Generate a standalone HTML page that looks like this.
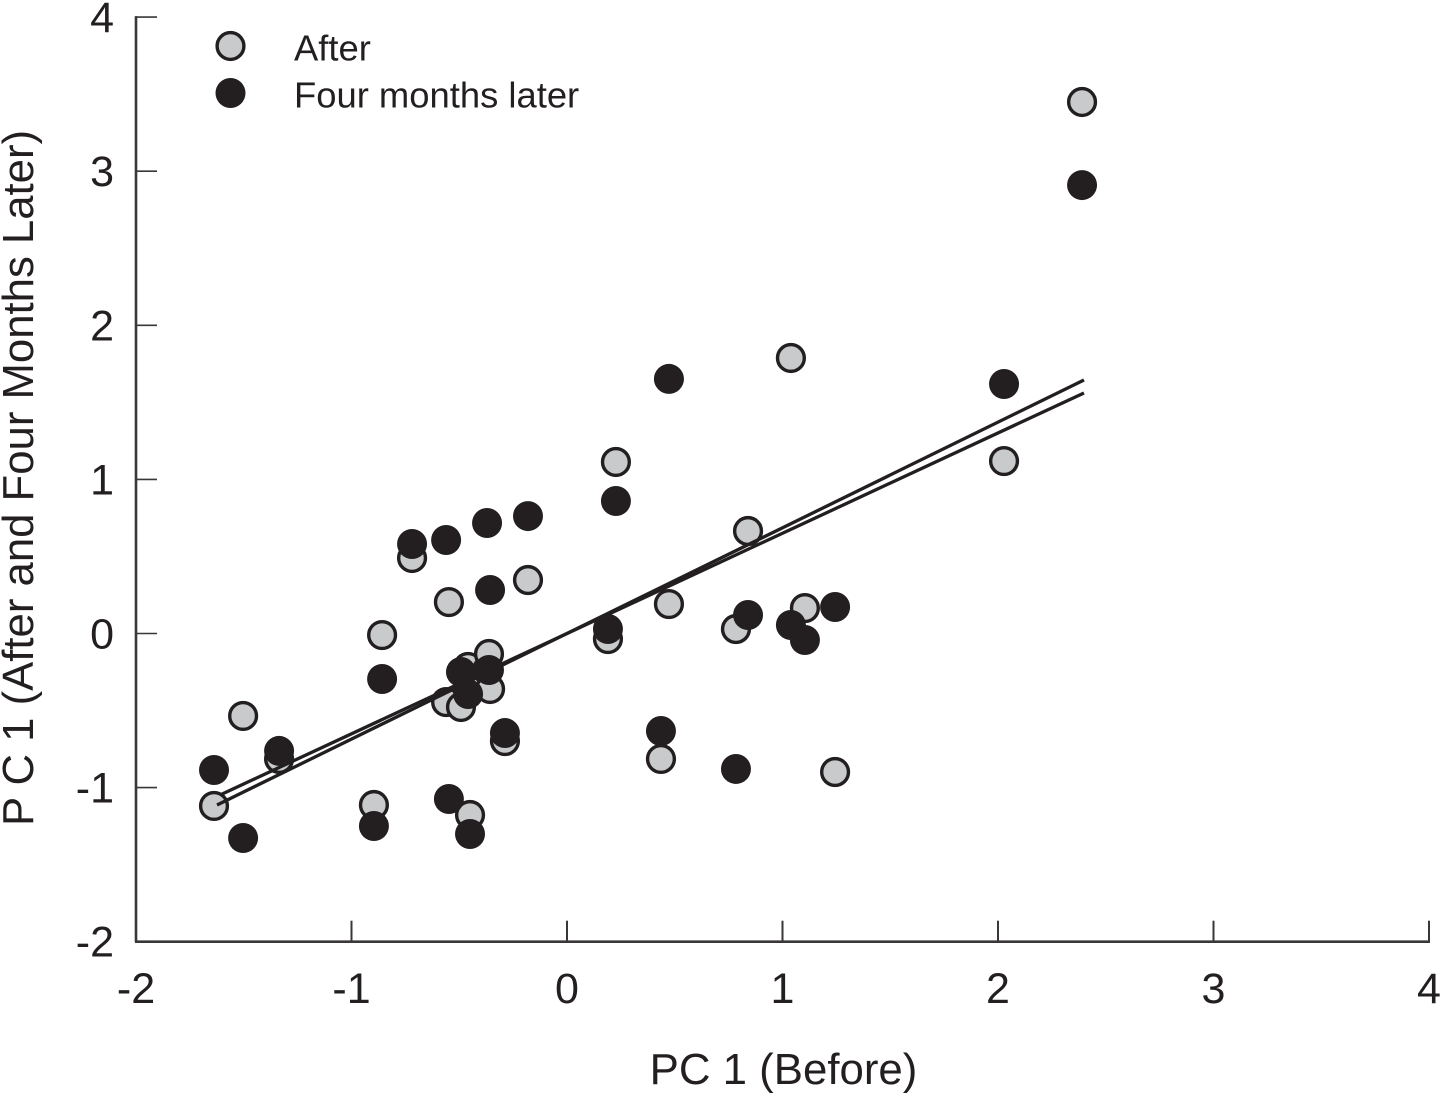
<!DOCTYPE html>
<html lang="en">
<head>
<meta charset="utf-8">
<title>PC 1 scatter chart</title>
<style>
html,body{margin:0;padding:0;background:#fff;}
svg{display:block;}
text{font-family:"Liberation Sans",sans-serif;fill:#231f20;}
</style>
</head>
<body>
<svg id="chart" xmlns="http://www.w3.org/2000/svg" width="1440" height="1093" viewBox="0 0 1440 1093">
  <g id="gray-layer"></g>
  <g id="line-layer"></g>
  <g id="black-layer"></g>
  <g id="axis-layer"></g>
  <g>
    <circle cx="230.500" cy="46" r="13.400" fill="#c8cacc" stroke="#231f20" stroke-width="3.400"></circle>
    <text x="294" y="60.500" font-size="36.400">After</text>
    <circle cx="230.500" cy="93" r="15" fill="#231f20"></circle>
    <text x="294" y="107.500" font-size="36.400">Four months later</text>
  </g>
  <text x="783.500" y="1084" font-size="43.800" text-anchor="middle">PC 1 (Before)</text>
  <text transform="translate(33 478) rotate(-90)" font-size="43.700" text-anchor="middle">P C 1 (After and Four Months Later)</text>
</svg>
<script>
const xValues = [-1.638,-1.503,-1.336,-0.896,-0.858,-0.719,-0.561,-0.548,-0.492,-0.459,-0.450,-0.371,-0.362,-0.357,-0.288,-0.181,0.190,0.227,0.436,0.473,0.784,0.840,1.039,1.104,1.244,2.028,2.390];
const afterValues = [-1.119,-0.535,-0.814,-1.113,-0.010,0.490,-0.445,0.204,-0.477,-0.217,-1.178,-0.237,-0.133,-0.360,-0.698,0.347,-0.036,1.113,-0.814,0.191,0.029,0.665,1.788,0.165,-0.899,1.119,3.449];
const fourMonthsValues = [-0.886,-1.327,-0.762,-1.249,-0.295,0.581,0.607,-1.074,-0.250,-0.393,-1.301,0.717,-0.237,0.282,-0.646,0.762,0.029,0.860,-0.633,1.652,-0.879,0.120,0.055,-0.042,0.172,1.619,2.910];
const afterFitX = [-1.624,2.399];
const afterFitY = [-1.113,1.645];
const fourMonthsFitX = [-1.610,2.399];
const fourMonthsFitY = [-1.048,1.561];
const xTicks = [-2,-1,0,1,2,3,4];
const yTicks = [-2,-1,0,1,2,3,4];

const NS = 'http://www.w3.org/2000/svg';
function sx(v){ return 567 + v * 215.5; }
function sy(v){ return 633.5 - v * 154.1; }
function make(tag, parent, attrs){
  const el = document.createElementNS(NS, tag);
  for (const k in attrs) el.setAttribute(k, attrs[k]);
  parent.appendChild(el);
  return el;
}
const grayLayer = document.getElementById('gray-layer');
const blackLayer = document.getElementById('black-layer');
const lineLayer = document.getElementById('line-layer');
const axisLayer = document.getElementById('axis-layer');

xValues.forEach(function(x, i){
  const c = make('circle', grayLayer, {cx: sx(x), cy: sy(afterValues[i]), r: 13.4, fill: '#c8cacc', stroke: '#231f20', 'stroke-width': 3.4});
  
  
});
xValues.forEach(function(x, i){
  const c = make('circle', blackLayer, {cx: sx(x), cy: sy(fourMonthsValues[i]), r: 15, fill: '#231f20'});
  
  
});

const fitA = make('line', lineLayer, {x1: sx(afterFitX[0]), y1: sy(afterFitY[0]), x2: sx(afterFitX[1]), y2: sy(afterFitY[1]), stroke: '#231f20', 'stroke-width': 3.3});


const fitB = make('line', lineLayer, {x1: sx(fourMonthsFitX[0]), y1: sy(fourMonthsFitY[0]), x2: sx(fourMonthsFitX[1]), y2: sy(fourMonthsFitY[1]), stroke: '#231f20', 'stroke-width': 3.3});



const xAxis = make('line', axisLayer, {x1: sx(-2) - 1, y1: sy(-2), x2: sx(4) + 1, y2: sy(-2), stroke: '#3a3738', 'stroke-width': 2.6});


const yAxis = make('line', axisLayer, {x1: sx(-2), y1: sy(4) - 1, x2: sx(-2), y2: sy(-2), stroke: '#3a3738', 'stroke-width': 2.6});



xTicks.forEach(function(t){
  const tick = make('line', axisLayer, {x1: sx(t), y1: sy(-2), x2: sx(t), y2: sy(-2) - 21, stroke: '#3a3738', 'stroke-width': 2});
  
  
  const label = make('text', axisLayer, {x: sx(t), y: 1003, 'font-size': 43, 'text-anchor': 'middle'});
  label.textContent = String(t);
  
  
});
yTicks.forEach(function(t){
  const tick = make('line', axisLayer, {x1: sx(-2), y1: sy(t), x2: sx(-2) + 21, y2: sy(t), stroke: '#3a3738', 'stroke-width': 1.6});
  
  
  const label = make('text', axisLayer, {x: 114, y: sy(t) + 15, 'font-size': 43, 'text-anchor': 'end'});
  label.textContent = String(t);
  
  
});
</script>
</body>
</html>
